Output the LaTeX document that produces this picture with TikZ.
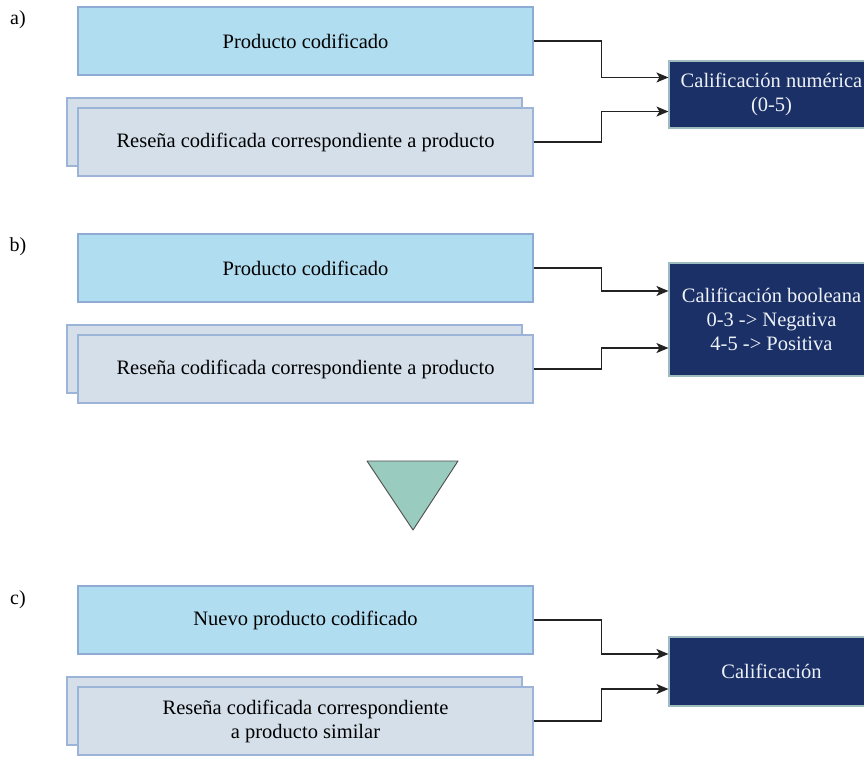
\documentclass[tikz,border=0pt]{standalone}
\usepackage{fontspec}
\setmainfont{Liberation Serif}
\usetikzlibrary{arrows.meta,calc}
\definecolor{prodfill}{HTML}{B1DDF0}
\definecolor{prodline}{HTML}{8EACD3}
\definecolor{revfill}{HTML}{D4DFEA}
\definecolor{revline}{HTML}{9CB4D8}
\definecolor{outfill}{HTML}{1B3067}
\definecolor{outline}{HTML}{9DBCC0}
\definecolor{outtext}{HTML}{EEF2F7}
\definecolor{trifill}{HTML}{9ACBBF}
\definecolor{linkcol}{HTML}{222222}
\tikzset{
  base/.style={font=\fontsize{20.5}{24}\selectfont, align=center, inner sep=0pt, line width=1.1pt},
  prodbox/.style={base, draw=prodline, fill=prodfill, minimum width=455pt, minimum height=68pt},
  revbox/.style={base, draw=revline, fill=revfill, minimum width=455pt, minimum height=68pt},
  outbox/.style={base, draw=outline, fill=outfill, text=outtext, minimum width=205pt},
  tag/.style={font=\fontsize{20}{24}\selectfont, inner sep=0pt},
  link/.style={draw=linkcol, line width=1.2pt, -{Stealth[length=12pt,width=10pt,inset=3pt]}}
}
\begin{document}
\begin{tikzpicture}[x=1pt,y=-1pt]
\useasboundingbox (0,0) rectangle (864,759);

% ---- a) numeric rating
\node[tag] (la) at (18,20) {a)};
\node[prodbox] (pa) at (305.5,41) {Producto codificado};
\node[revbox] (ra2) at (294.5,132) {};
\node[revbox] (ra) at (305.5,142) {Reseña codificada correspondiente a producto};
\node[outbox, minimum height=67pt] (oa) at (771.5,94.5) {Calificación numérica\\(0-5)};
\coordinate (ta1) at ($(oa.north west)!0.25!(oa.south west)$);
\coordinate (ta2) at ($(oa.north west)!0.75!(oa.south west)$);
\draw[link] (pa.east) -- ++(68,0) |- (ta1);
\draw[link] (ra.east) -- ++(68,0) |- (ta2);

% ---- b) boolean rating
\node[tag] (lb) at (18,247) {b)};
\node[prodbox] (pb) at (305.5,268) {Producto codificado};
\node[revbox] (rb2) at (294.5,359) {};
\node[revbox] (rb) at (305.5,369) {Reseña codificada correspondiente a producto};
\node[outbox, minimum height=113pt] (ob) at (771.5,319.5) {Calificación booleana\\0-3 -> Negativa\\4-5 -> Positiva};
\coordinate (tb1) at ($(ob.north west)!0.25!(ob.south west)$);
\coordinate (tb2) at ($(ob.north west)!0.75!(ob.south west)$);
\draw[link] (pb.east) -- ++(68,0) |- (tb1);
\draw[link] (rb.east) -- ++(68,0) |- (tb2);

% ---- downward triangle
\draw[fill=trifill, draw=black!70, line width=0.9pt, line join=round]
  (367,461) -- (458,461) -- (413,530) -- cycle;

% ---- c) rating of a new product
\node[tag] (lc) at (18,600) {c)};
\node[prodbox] (pc) at (305.5,620) {Nuevo producto codificado};
\node[revbox] (rc2) at (294.5,711) {};
\node[revbox] (rc) at (305.5,721) {Reseña codificada correspondiente\\a producto similar};
\node[outbox, minimum height=69pt] (oc) at (771.5,671.5) {Calificación};
\coordinate (tc1) at ($(oc.north west)!0.25!(oc.south west)$);
\coordinate (tc2) at ($(oc.north west)!0.75!(oc.south west)$);
\draw[link] (pc.east) -- ++(68,0) |- (tc1);
\draw[link] (rc.east) -- ++(68,0) |- (tc2);
\end{tikzpicture}
\end{document}
